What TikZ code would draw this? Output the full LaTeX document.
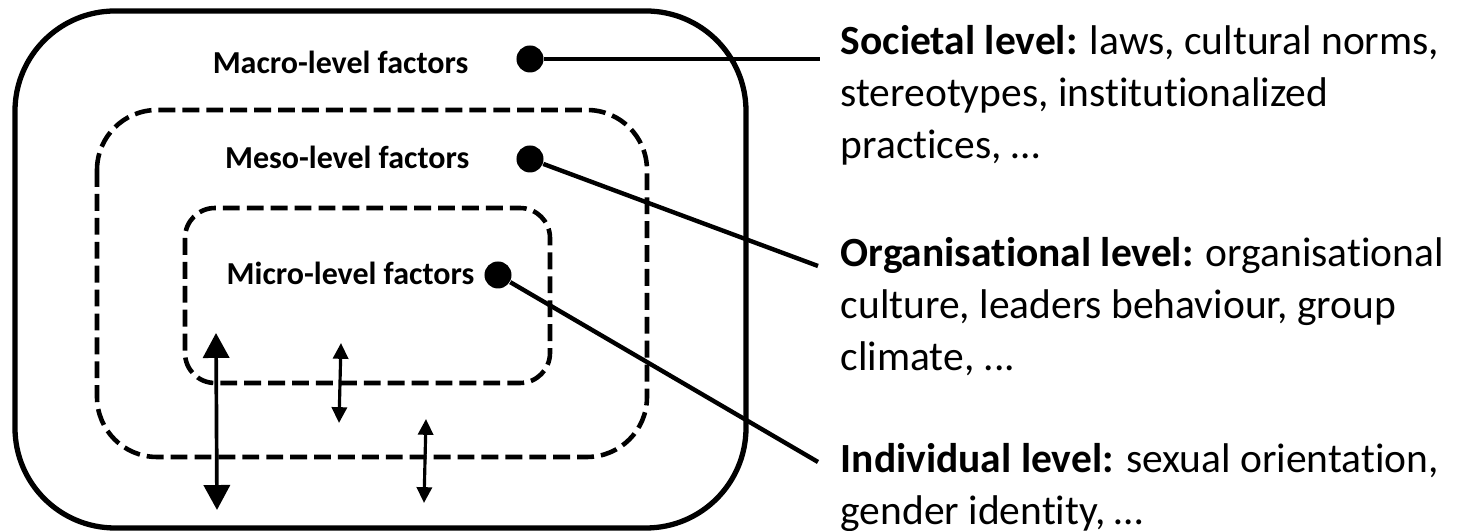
\documentclass[tikz,border=0pt]{standalone}
\usepackage{fontspec}
\setmainfont{Carlito}[Ligatures=NoCommon]
\usetikzlibrary{arrows.meta, positioning}

\begin{document}
\begin{tikzpicture}[x=0.01cm, y=-0.01cm,
  lvl/.style={font=\fontsize{9.1}{11}\selectfont\bfseries, inner sep=0pt, anchor=east},
  dot/.style={circle, fill=black, minimum size=0.27cm, inner sep=0pt},
  desc/.style={font=\fontsize{11.8}{14.8}\selectfont, align=left, inner sep=0pt, anchor=north west},
  frame/.style={line width=1.5pt, rounded corners=1cm},
  zone/.style={line width=1.3pt, dash pattern=on 4.8pt off 2pt},
  link/.style={line width=1.25pt},
  updown/.style={<->, line width=0.9pt, >={Triangle[width=4.3pt, length=4.5pt]}},
  bigupdown/.style={<->, line width=1.05pt, >={Triangle[width=7.4pt, length=7.1pt]}}]
  \useasboundingbox (0,0) rectangle (1459,531);

  % Nested levels
  \draw[frame] (15,11) rectangle (746,528);
  \draw[zone, rounded corners=0.6cm] (97,110) rectangle (647,457);
  \draw[zone, rounded corners=0.3cm] (185,208) rectangle (550,383);

  % Level labels and their dots
  \node[lvl] (macro) at (469,62) {Macro-level factors};
  \node[lvl] (meso) at (470,157) {Meso-level factors};
  \node[lvl] (micro) at (475,273) {Micro-level factors};
  \node[dot] (macrodot) at (530,59) {};
  \node[dot] (mesodot) at (530,159) {};
  \node[dot] (microdot) at (498,275) {};

  % Descriptions
  \node[desc] (soc) at (840,25)
    {\textbf{Societal level:} laws, cultural norms,\\stereotypes, institutionalized\\practices, …};
  \node[desc] (org) at (840,237)
    {\textbf{Organisational level:} organisational\\culture, leaders behaviour, group\\climate, ...};
  \node[desc] (ind) at (840,443)
    {\textbf{Individual level:} sexual orientation,\\gender identity, …};

  % Connectors
  \coordinate (socend) at (820,59);
  \coordinate (orgend) at (818,266);
  \coordinate (indend) at (818,462);
  \draw[link] (macrodot) -- (socend);
  \draw[link] (mesodot) -- (orgend);
  \draw[link] (microdot) -- (indend);

  % Interaction arrows
  \coordinate (bigtop) at (216,333);
  \coordinate (bigbot) at (217,510);
  \coordinate (upa) at (341,343);
  \coordinate (downa) at (339,423);
  \coordinate (upb) at (426,419);
  \coordinate (downb) at (424,503);
  \draw[bigupdown] (bigtop) -- (bigbot);
  \draw[updown] (upa) -- (downa);
  \draw[updown] (upb) -- (downb);
\end{tikzpicture}
\end{document}
